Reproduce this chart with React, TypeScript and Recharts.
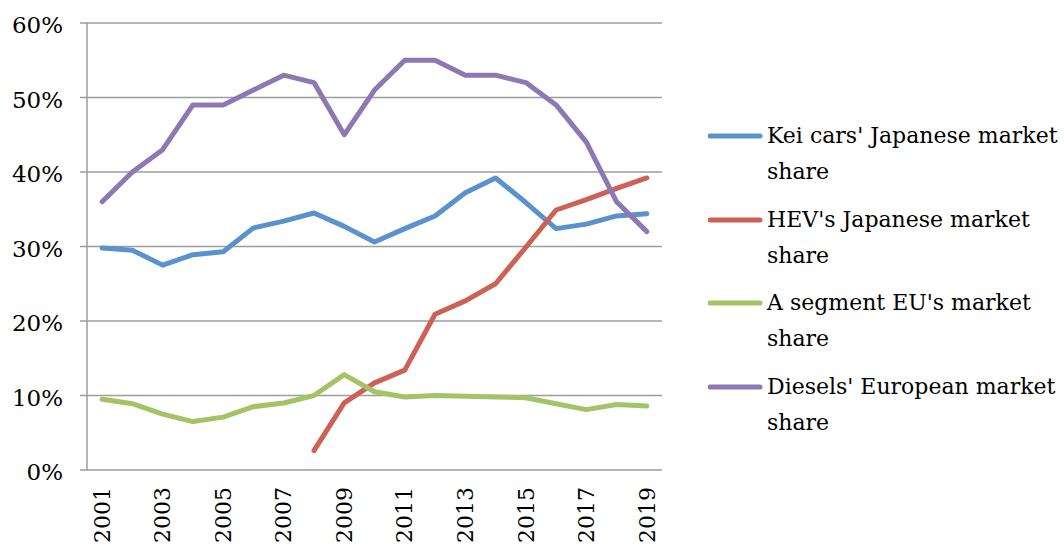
import React from "react";
import { LineChart, Line, XAxis, YAxis, CartesianGrid, Legend } from "recharts";

const years = [2001, 2002, 2003, 2004, 2005, 2006, 2007, 2008, 2009, 2010, 2011, 2012, 2013, 2014, 2015, 2016, 2017, 2018, 2019];
const keiCars = [29.8, 29.5, 27.5, 28.9, 29.3, 32.5, 33.4, 34.5, 32.7, 30.6, 32.4, 34.1, 37.2, 39.2, 35.9, 32.4, 33.0, 34.1, 34.4];
const hev = [null, null, null, null, null, null, null, 2.6, 9.0, 11.7, 13.4, 20.9, 22.7, 25.0, 29.9, 34.9, 36.3, 37.8, 39.2];
const aSegment = [9.5, 8.9, 7.5, 6.5, 7.1, 8.5, 9.0, 10.0, 12.8, 10.5, 9.8, 10.0, 9.9, 9.8, 9.7, 8.9, 8.1, 8.8, 8.6];
const diesels = [36, 40, 43, 49, 49, 51, 53, 52, 45, 51, 55, 55, 53, 53, 52, 49, 44, 36, 32];

const yTicks = [0, 10, 20, 30, 40, 50, 60];
const labelYears = [2001, 2003, 2005, 2007, 2009, 2011, 2013, 2015, 2017, 2019];
const boundaries = [...years.map((y) => y - 0.5), 2019.5];

const series = [
  { key: "kei", name: "Kei cars' Japanese market share", values: keiCars, color: "#5A93CC" },
  { key: "hev", name: "HEV's Japanese market share", values: hev, color: "#CD6155" },
  { key: "aseg", name: "A segment EU's market share", values: aSegment, color: "#A3C465" },
  { key: "diesel", name: "Diesels' European market share", values: diesels, color: "#8E78B4" },
];

const data = years.map((year, i) => {
  const row: Record<string, number | null> = { year };
  series.forEach((s) => {
    row[s.key] = s.values[i];
  });
  return row;
});

const FONT = "'DejaVu Serif', serif";
const FS = 23;
const GRID = "#9d9d9d";

function YearTick({ x, y, payload }: any) {
  return (
    <text
      x={x}
      y={y}
      transform={`rotate(-90 ${x} ${y})`}
      textAnchor="end"
      dy="0.35em"
      fontFamily={FONT}
      fontSize={22}
      fill="#000"
    >
      {payload.value}
    </text>
  );
}

// keep the legend in series order (recharts sorts by name otherwise)
function LegendBox() {
  return (
    <div style={{ fontFamily: FONT, fontSize: 22, color: "#000" }}>
      {series.map((s) => (
        <div key={s.key} style={{ display: "flex", alignItems: "flex-start", marginBottom: 11.5 }}>
          <svg width={59} height={36} style={{ flex: "none" }}>
            <line x1={2} y1={18} x2={52} y2={18} stroke={s.color} strokeWidth={5} strokeLinecap="round" />
          </svg>
          <div style={{ width: 295, lineHeight: "36px" }}>{s.name}</div>
        </div>
      ))}
    </div>
  );
}

export default function App() {
  return (
    <div style={{ width: 1064, height: 545, background: "#fff" }}>
      <style>{`body{margin:0}`}</style>
      <LineChart width={1064} height={545} data={data} margin={{ top: 23, right: 402, bottom: 0, left: 0 }}>
        <CartesianGrid vertical={false} stroke={GRID} strokeWidth={1.5} />
        <XAxis
          xAxisId="grid"
          dataKey="year"
          type="number"
          domain={[2000.5, 2019.5]}
          ticks={boundaries}
          tick={false}
          tickSize={7}
          height={0}
          stroke={GRID}
          strokeWidth={1.5}
        />
        <XAxis
          xAxisId="lbl"
          dataKey="year"
          type="number"
          domain={[2000.5, 2019.5]}
          ticks={labelYears}
          interval={0}
          tick={<YearTick />}
          tickLine={false}
          axisLine={false}
          tickSize={8}
          tickMargin={9}
          height={75}
        />
        <YAxis
          domain={[0, 60]}
          ticks={yTicks}
          tickFormatter={(v: number) => `${v}%`}
          width={87}
          tickSize={7}
          tickMargin={17}
          stroke={GRID}
          strokeWidth={1.5}
          tick={{ fontFamily: FONT, fontSize: FS, fill: "#000", dy: 2 }}
        />
        <Legend
          layout="vertical"
          align="center"
          verticalAlign="middle"
          content={<LegendBox />}
          wrapperStyle={{ left: 708, top: 118, width: 356 }}
        />
        {series.map((s) => (
          <Line
            key={s.key}
            xAxisId="grid"
            dataKey={s.key}
            name={s.name}
            stroke={s.color}
            strokeWidth={5}
            dot={false}
            activeDot={false}
            strokeLinecap="round"
            strokeLinejoin="round"
            isAnimationActive={false}
          />
        ))}
      </LineChart>
    </div>
  );
}
